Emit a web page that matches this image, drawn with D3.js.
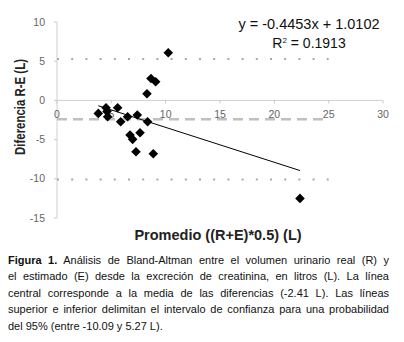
<!DOCTYPE html>
<html>
<head>
<meta charset="utf-8">
<script src="https://cdn.jsdelivr.net/npm/d3@7"></script>
<style>
  body { margin: 0; background: #fff; }
  #wrap { position: relative; width: 404px; height: 342px; overflow: hidden; }
  #caption { position: absolute; left: 8px; top: 252px; width: 381px;
    font-family: "Liberation Sans", Arial, sans-serif; font-size: 11px; line-height: 16.4px; color: #111; }
  #caption div { white-space: nowrap; }
  #caption div.j { text-align: justify; text-align-last: justify; white-space: normal; }
</style>
</head>
<body>
<div id="wrap"></div>
<script>
// Bland-Altman points: mean (x) and difference (y)
const meanValues = [10.24, 8.65, 9.08, 8.28, 3.8, 4.51, 4.66, 4.6, 5.58, 5.86, 6.5, 7.39, 8.34, 6.72, 6.96, 7.64, 7.27, 8.86, 22.36];
const diffValues = [6.08, 2.8, 2.38, 0.85, -1.66, -0.93, -2.08, -1.4, -0.93, -2.72, -2.08, -1.87, -2.72, -4.42, -4.97, -4.12, -6.55, -6.8, -12.5];

// reference lines
const meanDiff = -2.41;
const limits = [5.27, -10.09];

// trendline
const slope = -0.4453;
const intercept = 1.0102;
const trendRange = [3.8, 22.36];

const xTicks = [0, 5, 10, 15, 20, 25, 30];
const yTicks = [10, 5, 0, -5, -10, -15];

const captionLines = [
  "Análisis de Bland-Altman entre el volumen urinario real (R) y",
  "el estimado (E) desde la excreción de creatinina, en litros (L). La línea",
  "central corresponde a la media de las diferencias (-2.41 L). Las líneas",
  "superior e inferior delimitan el intervalo de confianza para una probabilidad",
  "del 95% (entre -10.09 y 5.27 L)."
];

const wrap = d3.select('#wrap');
const svg = wrap.append('svg')
    .attr('width', 404)
    .attr('height', 342)
    .style('position', 'absolute')
    .style('left', 0).style('top', 0);

const x = d3.scaleLinear().domain([0, 30]).range([57, 383]);
const y = d3.scaleLinear().domain([-15, 10]).range([218, 22]);

const font = '"Liberation Sans", Arial, sans-serif';

// y axis line and ticks
svg.append('line')
    .attr('x1', x(0)).attr('x2', x(0))
    .attr('y1', y(10)).attr('y2', y(-15))
    .attr('stroke', '#d0d0d0');
svg.selectAll('.ytick')
    .data(yTicks)
    .enter()
    .append('line')
    .attr('x1', x(0) - 3).attr('x2', x(0))
    .attr('y1', d => y(d)).attr('y2', d => y(d))
    .attr('stroke', '#c8c8c8');
svg.selectAll('.ylab')
    .data(yTicks)
    .enter()
    .append('text')
    .attr('x', 45)
    .attr('y', d => y(d))
    .attr('dy', '0.35em')
    .attr('text-anchor', 'end')
    .style('font-family', font)
    .style('font-size', '10.5px')
    .attr('fill', '#666')
    .text(d => d);

// x axis at y = 0
svg.append('line')
    .attr('x1', x(0)).attr('x2', x(30))
    .attr('y1', y(0)).attr('y2', y(0))
    .attr('stroke', '#d0d0d0');
svg.selectAll('.xtick')
    .data(xTicks)
    .enter()
    .append('line')
    .attr('x1', d => x(d)).attr('x2', d => x(d))
    .attr('y1', y(0)).attr('y2', y(0) + 3)
    .attr('stroke', '#c8c8c8');

// limits of agreement (dotted)
svg.selectAll('.limit')
    .data(limits)
    .enter()
    .append('line')
    .attr('x1', x(0)).attr('x2', x(25))
    .attr('y1', d => y(d)).attr('y2', d => y(d))
    .attr('stroke', '#a8a8a8')
    .attr('stroke-width', 2)
    .attr('stroke-dasharray', '2,12.2');

// mean difference (dashed)
svg.append('line')
    .attr('x1', x(0)).attr('x2', x(25))
    .attr('y1', y(meanDiff)).attr('y2', y(meanDiff))
    .attr('stroke', '#c0c0c0')
    .attr('stroke-width', 2.5)
    .attr('stroke-dasharray', '10,6');

// x tick labels (drawn over the dashed line)
svg.selectAll('.xlab')
    .data(xTicks)
    .enter()
    .append('text')
    .attr('x', d => x(d))
    .attr('y', y(0) + 14)
    .attr('dy', '0.35em')
    .attr('text-anchor', 'middle')
    .style('font-family', font)
    .style('font-size', '10.5px')
    .attr('fill', '#666')
    .text(d => d);

// trendline
svg.append('line')
    .attr('x1', x(trendRange[0])).attr('y1', y(slope * trendRange[0] + intercept))
    .attr('x2', x(trendRange[1])).attr('y2', y(slope * trendRange[1] + intercept))
    .attr('stroke', '#000')
    .attr('stroke-width', 1);

// points
const diamond = d3.symbol().type(d3.symbolSquare).size(46);
svg.selectAll('.pt')
    .data(meanValues.map((m, i) => ({ m, d: diffValues[i] })))
    .enter()
    .append('path')
    .attr('d', diamond)
    .attr('transform', d => `translate(${x(d.m)},${y(d.d)}) rotate(45)`)
    .attr('fill', '#000');

// equation
svg.append('text')
    .attr('x', 309).attr('y', 29)
    .attr('text-anchor', 'middle')
    .style('font-family', font)
    .style('font-size', '14.5px')
    .attr('fill', '#111')
    .text('y = -0.4453x + 1.0102');
const r2 = svg.append('text')
    .attr('x', 309).attr('y', 48)
    .attr('text-anchor', 'middle')
    .style('font-family', font)
    .style('font-size', '14px')
    .attr('fill', '#111');
r2.append('tspan').text('R');
r2.append('tspan').attr('dy', -5).style('font-size', '8px').text('2');
r2.append('tspan').attr('dy', 5).text(' = 0.1913');

// axis titles
const yTitle = svg.append('text')
    .attr('text-anchor', 'middle')
    .style('font-family', font)
    .style('font-size', '15px')
    .style('font-weight', 'bold')
    .attr('fill', '#222')
    .text('Diferencia R-E (L)');
const yLen = yTitle.node().getComputedTextLength();
yTitle.attr('transform', `translate(24.5,107) rotate(-90) scale(${96 / yLen},1)`);

svg.append('text')
    .attr('x', 218).attr('y', 240)
    .attr('text-anchor', 'middle')
    .style('font-family', font)
    .style('font-size', '14.5px')
    .style('font-weight', 'bold')
    .attr('fill', '#222')
    .text('Promedio ((R+E)*0.5) (L)');

// caption
const cap = wrap.append('div').attr('id', 'caption');
captionLines.forEach((line, i) => {
    const row = cap.append('div').attr('class', i < captionLines.length - 1 ? 'j' : null);
    if (i === 0) {
        row.append('b').text('Figura 1.');
        row.append('span').text('  ' + line);
    } else {
        row.text(line);
    }
});
</script>
</body>
</html>
